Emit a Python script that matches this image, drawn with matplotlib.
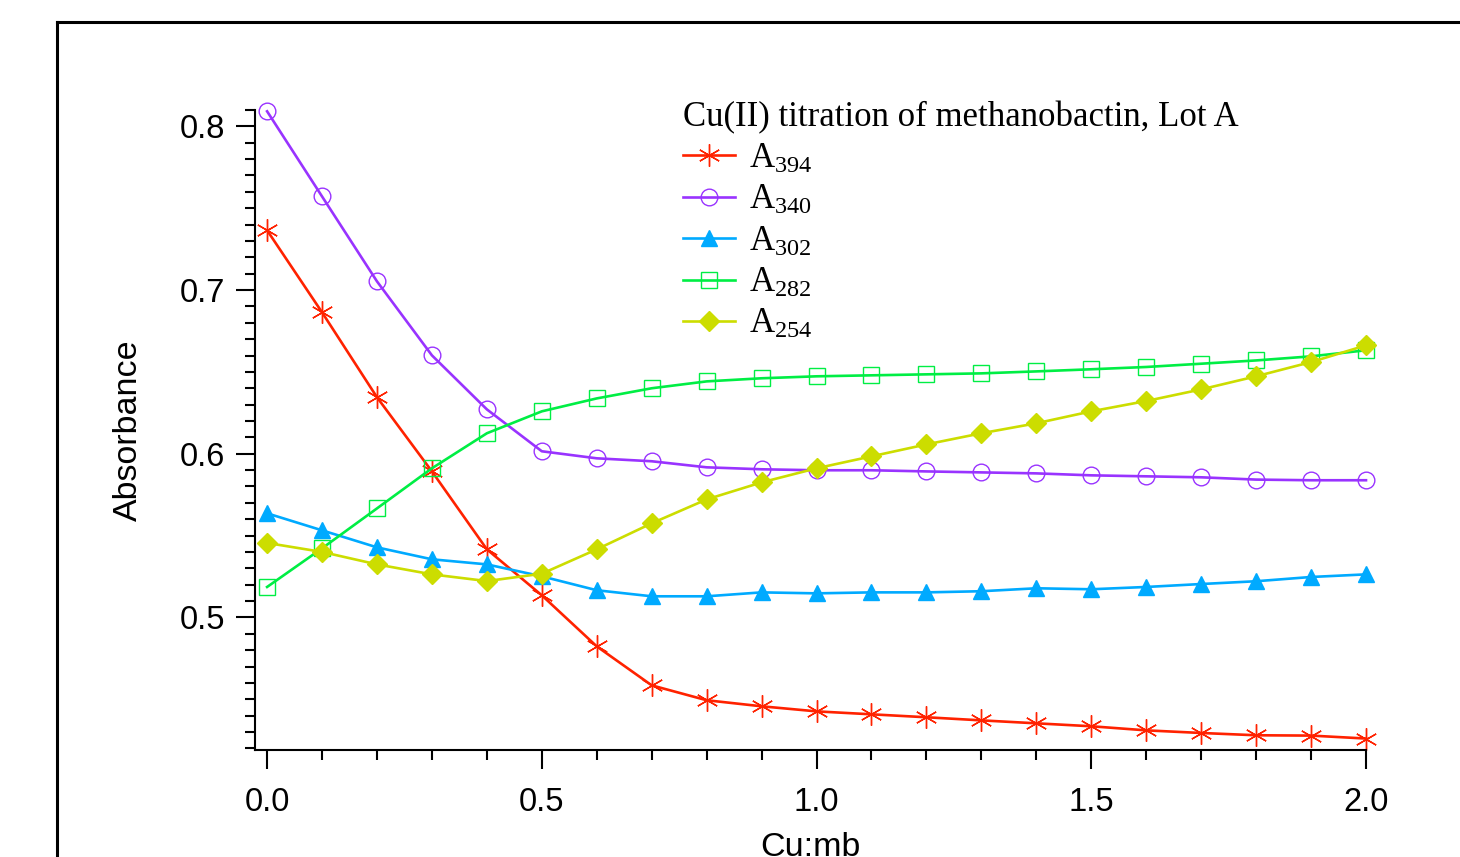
import matplotlib
matplotlib.use("Agg")
import matplotlib.pyplot as plt
from matplotlib.lines import Line2D
from matplotlib.ticker import MultipleLocator

# Cu:mb ratio
cu_mb = [0.0, 0.1, 0.2, 0.3, 0.4, 0.5, 0.6, 0.7, 0.8, 0.9, 1.0,
         1.1, 1.2, 1.3, 1.4, 1.5, 1.6, 1.7, 1.8, 1.9, 2.0]

a394 = [0.7365, 0.6864, 0.6345, 0.5892, 0.5416, 0.5135, 0.4823, 0.4585, 0.4494, 0.4457, 0.4426,
        0.4408, 0.4390, 0.4371, 0.4353, 0.4335, 0.4310, 0.4294, 0.4280, 0.4278, 0.4260]
a340 = [0.8092, 0.7572, 0.7053, 0.6601, 0.6271, 0.6015, 0.5972, 0.5954, 0.5917, 0.5905, 0.5899,
        0.5899, 0.5892, 0.5886, 0.5880, 0.5868, 0.5862, 0.5856, 0.5842, 0.5838, 0.5838]
a302 = [0.5636, 0.5532, 0.5428, 0.5355, 0.5324, 0.5251, 0.5166, 0.5129, 0.5129, 0.5153, 0.5147,
        0.5153, 0.5153, 0.5160, 0.5178, 0.5172, 0.5186, 0.5204, 0.5221, 0.5247, 0.5263]
a282 = [0.5186, 0.5422, 0.5666, 0.5911, 0.6125, 0.6259, 0.6338, 0.6400, 0.6442, 0.6461, 0.6473,
        0.6479, 0.6485, 0.6491, 0.6503, 0.6516, 0.6530, 0.6550, 0.6570, 0.6595, 0.6632]
a254 = [0.5455, 0.5400, 0.5324, 0.5263, 0.5222, 0.5267, 0.5416, 0.5575, 0.5721, 0.5825, 0.5911,
        0.5984, 0.6057, 0.6125, 0.6186, 0.6259, 0.6322, 0.6393, 0.6473, 0.6560, 0.6662]

plt.rcParams["font.family"] = ["Liberation Sans", "DejaVu Sans"]
plt.rcParams["mathtext.fontset"] = "custom"
plt.rcParams["mathtext.rm"] = "Liberation Serif"
plt.rcParams["mathtext.it"] = "Liberation Serif"

fig = plt.figure(figsize=(14.6, 8.57), dpi=100)
ax = fig.add_axes([255 / 1460, 1 - 750 / 857, (1366 - 255) / 1460, (750 - 110) / 857])

# outer frame (cut off at right and bottom)
fx, fy = 57 / 1460, 1 - 22 / 857
fig.add_artist(Line2D([fx, 1.0], [fy, fy], color="black", lw=2.2, transform=fig.transFigure))
fig.add_artist(Line2D([fx, fx], [0.0, fy], color="black", lw=2.2, transform=fig.transFigure))

ms = 12
ax.plot(cu_mb, a394, color="#ff2200", lw=1.9, marker=(6, 2, 0), ms=16, mew=1.0,
        label="A$_{394}$", clip_on=False)
ax.plot(cu_mb, a340, color="#9933ff", lw=1.9, marker="o", ms=ms, mfc="none", mew=1.0,
        label="A$_{340}$", clip_on=False)
ax.plot(cu_mb, a302, color="#00aaff", lw=1.9, marker="^", ms=ms, mew=1.0,
        label="A$_{302}$", clip_on=False)
ax.plot(cu_mb, a282, color="#00ee44", lw=1.9, marker="s", ms=11, mfc="none", mew=1.0,
        label="A$_{282}$", clip_on=False)
ax.plot(cu_mb, a254, color="#ccdd00", lw=1.9, marker="D", ms=10, mew=1.0,
        label="A$_{254}$", clip_on=False)

ax.set_xlim(-0.022, 2.0)
ax.set_ylim(0.419, 0.81)

ax.spines["top"].set_visible(False)
ax.spines["right"].set_visible(False)
ax.spines["left"].set_linewidth(1.5)
ax.spines["bottom"].set_linewidth(1.5)

ax.xaxis.set_major_locator(MultipleLocator(0.5))
ax.xaxis.set_minor_locator(MultipleLocator(0.1))
ax.yaxis.set_major_locator(MultipleLocator(0.1))
ax.yaxis.set_minor_locator(MultipleLocator(0.01))
ax.xaxis.set_major_formatter(matplotlib.ticker.FormatStrFormatter("%.1f"))
ax.yaxis.set_major_formatter(matplotlib.ticker.FormatStrFormatter("%.1f"))
ax.tick_params(which="major", length=13.5, width=1.5, labelsize=23.5, pad=8)
ax.tick_params(axis="x", which="major", pad=13)
ax.tick_params(which="minor", length=7, width=1.5)

ax.set_xlabel("Cu:mb", fontsize=24.5, labelpad=10)
ax.set_ylabel("Absorbance", fontsize=24.5, labelpad=26)

leg = ax.legend(loc="upper left", bbox_to_anchor=(683 / 1460, 1 - 101 / 857),
                bbox_transform=fig.transFigure, frameon=False,
                title="Cu(II) titration of methanobactin, Lot A",
                title_fontproperties={"family": "Liberation Serif", "size": 25},
                prop={"family": "Liberation Serif", "size": 25},
                alignment="left", handlelength=1.5, handletextpad=0.4,
                labelspacing=0.24, borderpad=0, borderaxespad=0)

fig.savefig("out.png", dpi=100)
